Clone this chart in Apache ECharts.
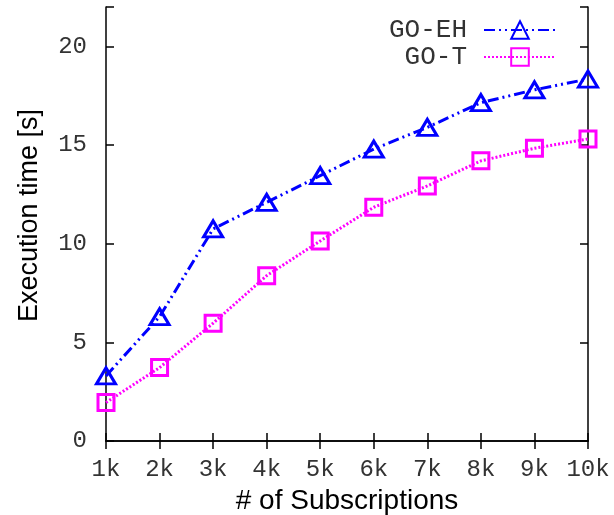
<!DOCTYPE html>
<html>
<head>
<meta charset="utf-8">
<script src="https://cdn.jsdelivr.net/npm/echarts@6/dist/echarts.min.js"></script>
<style>html,body{margin:0;padding:0;background:#fff}#c{width:614px;height:515px}</style>
</head>
<body>
<div id="c"></div>
<script>
var categories = ['1k','2k','3k','4k','5k','6k','7k','8k','9k','10k'];
var goEH = [3.3, 6.3, 10.75, 12.1, 13.45, 14.8, 15.9, 17.15, 17.8, 18.35];
var goT = [1.95, 3.72, 5.97, 8.38, 10.14, 11.85, 12.93, 14.2, 14.84, 15.31];
var yTicks = [0, 5, 10, 15, 20];

var chart = echarts.init(document.getElementById('c'));
var mono = 'Liberation Mono';
var sans = 'Liberation Sans';
var axisLine = {show: true, lineStyle: {color: '#000', width: 1.5}};
var axisTick = {show: true, inside: true, length: 8, lineStyle: {color: '#000', width: 1.5}};
chart.setOption({
  animation: false,
  grid: {left: 106, right: 26, top: 7, bottom: 74, containLabel: false, outerBoundsMode: 'none'},
  legend: {
    orient: 'vertical', right: 52, top: 12, align: 'right',
    itemWidth: 72, itemHeight: 22, itemGap: 1,
    textStyle: {fontFamily: mono, fontSize: 26, color: '#333', padding: [0, 12, 0, 0]},
    data: ['GO-EH', 'GO-T']
  },
  xAxis: [{
    type: 'category', data: categories, boundaryGap: false,
    name: '# of Subscriptions', nameLocation: 'middle', nameGap: 30,
    nameTextStyle: {fontFamily: sans, fontSize: 28, color: '#000'},
    axisLine: axisLine, axisTick: axisTick,
    axisLabel: {fontFamily: mono, fontSize: 24, color: '#333', margin: 17, interval: 0},
    splitLine: {show: false}
  }, {
    type: 'category', data: categories, boundaryGap: false, position: 'top',
    axisLine: axisLine, axisTick: axisTick, axisLabel: {show: false}, splitLine: {show: false}
  }],
  yAxis: [{
    type: 'value', min: 0, max: 22, interval: 5,
    name: 'Execution time [s]', nameLocation: 'middle', nameGap: 63,
    nameTextStyle: {fontFamily: sans, fontSize: 27, color: '#000', padding: [0, 0, 0, 17]},
    axisLine: axisLine, axisTick: axisTick,
    axisLabel: {fontFamily: mono, fontSize: 24, color: '#333', margin: 19,
      formatter: function (v) { return yTicks.indexOf(v) >= 0 ? String(v) : ''; }},
    splitLine: {show: false}
  }, {
    type: 'value', min: 0, max: 22, interval: 5, position: 'right',
    axisLine: axisLine, axisTick: axisTick, axisLabel: {show: false}, splitLine: {show: false}
  }],
  series: [{
    name: 'GO-EH', type: 'line', data: goEH,
    symbol: 'triangle', symbolSize: [19, 16],
    itemStyle: {color: 'rgba(0,0,0,0)', borderColor: '#0000ff', borderWidth: 3},
    lineStyle: {color: '#0000ff', width: 3, type: [11, 4, 2, 4, 2, 4]},
    z: 3
  }, {
    name: 'GO-T', type: 'line', data: goT,
    symbol: 'rect', symbolSize: 16,
    itemStyle: {color: 'rgba(0,0,0,0)', borderColor: '#ff00ff', borderWidth: 3},
    lineStyle: {color: '#ff00ff', width: 3, type: [2, 2]},
    z: 2
  }]
});
</script>
</body>
</html>
